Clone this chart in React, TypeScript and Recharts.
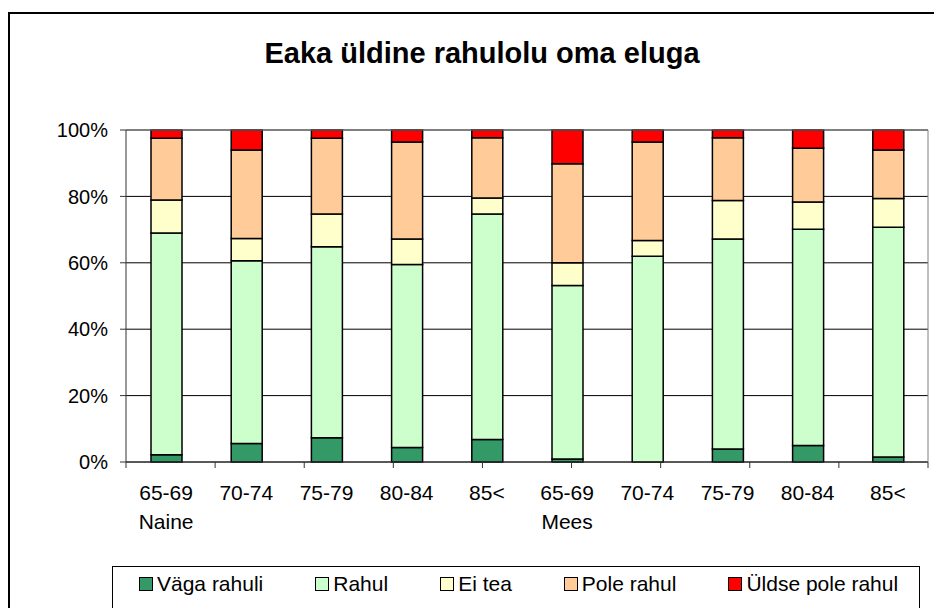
import {
  Bar,
  BarChart,
  CartesianGrid,
  ReferenceLine,
  XAxis,
  YAxis,
} from "recharts";

const ageGroups = ["65-69", "70-74", "75-79", "80-84", "85<", "65-69", "70-74", "75-79", "80-84", "85<"];
const sexLabels = ["Naine", "", "", "", "", "Mees", "", "", "", ""];

// shares in %
const vagaRahuli = [2.2, 5.6, 7.3, 4.4, 6.8, 0.9, 0, 3.9, 5.0, 1.5];
const rahul = [66.8, 55.0, 57.5, 55.1, 67.9, 52.3, 62.0, 63.3, 65.1, 69.2];
const eiTea = [9.9, 6.7, 9.9, 7.7, 4.8, 6.8, 4.7, 11.6, 8.2, 8.7];
const poleRahul = [18.6, 26.7, 22.8, 29.2, 18.2, 29.8, 29.7, 18.9, 16.2, 14.6];
const uldsePoleRahul = [2.5, 6.0, 2.5, 3.6, 2.3, 10.2, 3.6, 2.3, 5.5, 6.0];

const seriesNames = ["Väga rahuli", "Rahul", "Ei tea", "Pole rahul", "Üldse pole rahul"];
const yTicks = [0, 0.2, 0.4, 0.6, 0.8, 1];

const colors = ["#339966", "#CCFFCC", "#FFFFCC", "#FFCC99", "#FF0000"];
const keys = ["vaga", "rahul", "eitea", "pole", "uldse"];
const font = '"Liberation Sans", Arial, sans-serif';

const data = ageGroups.map((name, i) => ({
  name,
  sex: sexLabels[i],
  vaga: vagaRahuli[i],
  rahul: rahul[i],
  eitea: eiTea[i],
  pole: poleRahul[i],
  uldse: uldsePoleRahul[i],
}));

const boundaryTicks = [...ageGroups.map((_, i) => i), ageGroups.length];

function AgeTick(props: any) {
  const { x, y, payload, index } = props;
  const sex = sexLabels[index];
  return (
    <g transform={`translate(${x},${y})`}>
      <text textAnchor="middle" fontFamily={font} fontSize={21} fill="#000">
        <tspan x={0} y={32}>{payload.value}</tspan>
        {sex ? <tspan x={0} y={61}>{sex}</tspan> : null}
      </text>
    </g>
  );
}

function NoLabel() {
  return <g />;
}

function LegendBox() {
  return (
    <div
      style={{
        position: "absolute",
        left: 112,
        top: 566,
        width: 806,
        height: 80,
        border: "1px solid #000",
        background: "#fff",
      }}
    >
      <div
        style={{
          display: "flex",
          gap: 52,
          paddingLeft: 26,
          paddingTop: 5,
          fontFamily: font,
          fontSize: 21,
          lineHeight: "24px",
          color: "#000",
        }}
      >
        {seriesNames.map((n, i) => (
          <div key={n} style={{ display: "flex", alignItems: "center" }}>
            <span
              style={{
                width: 12,
                height: 12,
                border: "1px solid #000",
                background: colors[i],
                marginRight: 4,
                display: "inline-block",
              }}
            />
            <span style={{ whiteSpace: "nowrap" }}>{n}</span>
          </div>
        ))}
      </div>
    </div>
  );
}

export default function App() {
  return (
    <div
      style={{
        position: "absolute",
        left: 0,
        top: 0,
        width: 934,
        height: 608,
        overflow: "hidden",
        background: "#fff",
      }}
    >
      <div
        style={{
          position: "absolute",
          left: 8,
          top: 12,
          width: 960,
          height: 700,
          border: "2px solid #000",
        }}
      />
      <div
        style={{
          position: "absolute",
          left: 82,
          top: 39,
          width: 800,
          textAlign: "center",
          fontFamily: font,
          fontWeight: "bold",
          fontSize: 29,
          lineHeight: "29px",
          color: "#000",
        }}
      >
        Eaka üldine rahulolu oma eluga
      </div>
      <div style={{ position: "absolute", left: 0, top: 0 }}>
        <BarChart
          width={934}
          height={608}
          data={data}
          stackOffset="expand"
          margin={{ top: 130, right: 0, bottom: 0, left: 0 }}
        >
          <CartesianGrid vertical={false} stroke="#000" xAxisId="cat" />
          {/* boundary ticks between the categories, as in the original */}
          <XAxis
            xAxisId={0}
            type="number"
            domain={[0, ageGroups.length]}
            ticks={boundaryTicks}
            interval={0}
            height={6}
            tick={<NoLabel />}
            tickSize={6}
            tickLine={{ stroke: "#333" }}
            axisLine={{ stroke: "#333" }}
          />
          <XAxis
            xAxisId="cat"
            dataKey="name"
            height={140}
            tickSize={0}
            tickMargin={0}
            tickLine={false}
            axisLine={false}
            tick={<AgeTick />}
            interval={0}
          />
          <YAxis
            width={126}
            domain={[0, 1]}
            ticks={yTicks}
            tickFormatter={(v) => `${Math.round(v * 100)}%`}
            tickSize={6}
            tickMargin={12}
            axisLine={{ stroke: "#333" }}
            tickLine={{ stroke: "#333" }}
            tick={{ fill: "#000", fontFamily: font, fontSize: 20 }}
          />
          <YAxis
            yAxisId="r"
            orientation="right"
            width={6}
            domain={[0, 1]}
            tick={false}
            tickLine={false}
            axisLine={{ stroke: "#808080" }}
          />
          <ReferenceLine y={1} xAxisId="cat" stroke="#808080" />
          {keys.map((k, i) => (
            <Bar
              key={k}
              xAxisId="cat"
              dataKey={k}
              name={seriesNames[i]}
              stackId="a"
              fill={colors[i]}
              stroke="#000"
              strokeWidth={1.5}
              barSize={31}
              isAnimationActive={false}
            />
          ))}
        </BarChart>
      </div>
      <LegendBox />
    </div>
  );
}
